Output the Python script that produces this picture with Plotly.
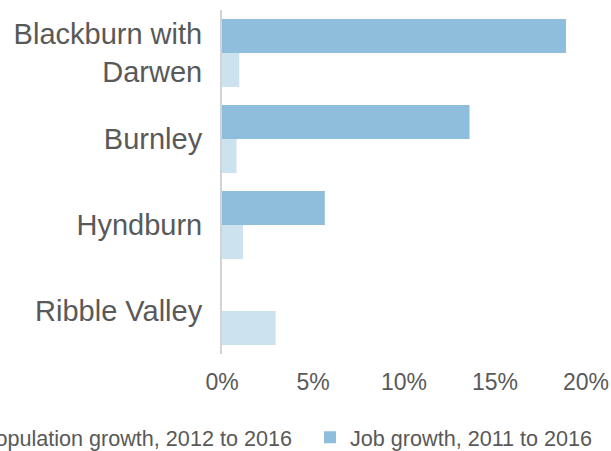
import plotly.graph_objects as go

categories = ["Blackburn with<br>Darwen", "Burnley", "Hyndburn", "Ribble Valley"]
job_growth = [18.9, 13.6, 5.65, 0.0]
pop_growth = [0.95, 0.8, 1.15, 2.95]
x_ticks = [0, 5, 10, 15, 20]
x_tick_labels = ["0%", "5%", "10%", "15%", "20%"]

job_color = "#8FBEDC"
pop_color = "#CCE2EF"
text_color = "#595959"
font_family = "'Liberation Sans', Arial, sans-serif"

fig = go.Figure()
fig.add_trace(go.Bar(
    y=categories, x=job_growth, orientation="h",
    name="Job growth, 2011 to 2016",
    marker=dict(color=job_color, line=dict(width=0)),
    legend="legend2",
))
fig.add_trace(go.Bar(
    y=categories, x=pop_growth, orientation="h",
    name="Population growth, 2012 to 2016",
    marker=dict(color=pop_color, line=dict(width=0)),
    legend="legend",
))

fig.update_layout(
    width=611, height=451,
    margin=dict(l=222, r=25, t=10, b=97, autoexpand=False),
    barmode="group", bargap=0.21, bargroupgap=0,
    plot_bgcolor="white", paper_bgcolor="white",
    font=dict(family=font_family, color=text_color),
    showlegend=True,
    legend=dict(
        orientation="h", x=-0.772, xanchor="left", y=-0.182, yanchor="top",
        font=dict(size=21.6, color=text_color), bgcolor="rgba(0,0,0,0)",
    ),
    legend2=dict(
        orientation="h", x=0.2418, xanchor="left", y=-0.182, yanchor="top",
        font=dict(size=21.6, color=text_color), bgcolor="rgba(0,0,0,0)",
    ),
    xaxis=dict(
        range=[0, 20], tickvals=x_ticks, ticktext=x_tick_labels,
        showgrid=False, zeroline=False, showline=False,
        tickfont=dict(size=23, color=text_color), ticks="", ticklabelstandoff=12,
    ),
    yaxis=dict(
        categoryorder="array", categoryarray=categories, autorange="reversed",
        showgrid=False, zeroline=False, showline=True, linecolor="#D3D3D3", linewidth=2,
        tickfont=dict(size=29, color=text_color), ticks="", ticklabelstandoff=12,
    ),
)

fig.write_html(
    "out.html",
    config={"displayModeBar": False},
    post_script="document.body.style.margin='0';document.body.style.overflow='hidden';",
)
